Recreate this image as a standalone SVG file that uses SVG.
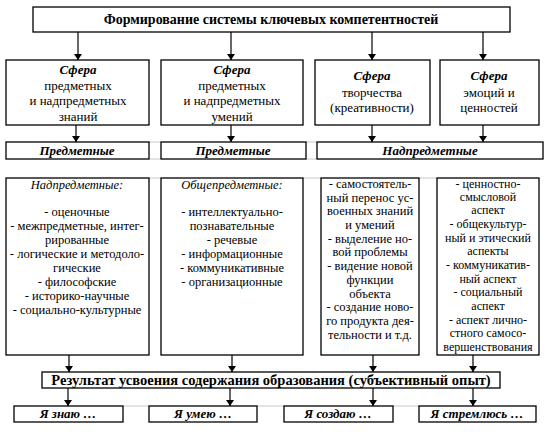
<svg xmlns="http://www.w3.org/2000/svg" width="548" height="433" viewBox="0 0 548 433">
<defs>
<marker id="ah" viewBox="0 0 6 8" refX="6" refY="4" markerWidth="6" markerHeight="8" orient="auto" markerUnits="userSpaceOnUse">
<path d="M0,0 L6,4 L0,8 Z" fill="#000"/>
</marker>
<style>
rect.b{fill:#fff;stroke:#000;stroke-width:1.3}
line.c{stroke:#000;stroke-width:1.2;marker-end:url(#ah)}
line.g{stroke:#c8c8c8;stroke-width:1}
text{font-family:"Times New Roman","Liberation Serif",Tinos,"DejaVu Serif",serif;fill:#000;text-anchor:middle}
.t{font-size:14px;font-weight:bold}
.u{font-size:14.5px;font-weight:bold}
.s{font-size:13px;font-weight:bold;font-style:italic}
.r{font-size:13px}
.l{font-size:12.5px}
.k{font-size:12px}
.i{font-size:12.5px;font-style:italic}
</style>
</defs>
<rect width="548" height="433" fill="#fff"/>
<g id="grid">
<line class="g" x1="149" y1="142" x2="161" y2="142"/>
<line class="g" x1="149" y1="159" x2="161" y2="159"/>
<line class="g" x1="306" y1="142" x2="317" y2="142"/>
<line class="g" x1="306" y1="159" x2="317" y2="159"/>
<line class="g" x1="149" y1="178" x2="161" y2="178"/>
<line class="g" x1="303" y1="178" x2="321" y2="178"/>
<line class="g" x1="419" y1="178" x2="437" y2="178"/>
<line class="g" x1="123" y1="406" x2="149" y2="406"/>
<line class="g" x1="257" y1="406" x2="284" y2="406"/>
<line class="g" x1="393" y1="406" x2="419" y2="406"/>
</g>
<g id="connectors">
<line class="c" x1="78" y1="32" x2="78" y2="60"/>
<line class="c" x1="231" y1="32" x2="231" y2="60"/>
<line class="c" x1="372" y1="32" x2="372" y2="60"/>
<line class="c" x1="483" y1="32" x2="483" y2="60"/>
<line class="c" x1="76" y1="125" x2="76" y2="142"/>
<line class="c" x1="231" y1="125" x2="231" y2="142"/>
<line class="c" x1="372" y1="125" x2="372" y2="142"/>
<line class="c" x1="483" y1="125" x2="483" y2="142"/>
<line class="c" x1="69" y1="355" x2="69" y2="372"/>
<line class="c" x1="232" y1="355" x2="232" y2="372"/>
<line class="c" x1="373" y1="355" x2="373" y2="372"/>
<line class="c" x1="473" y1="355" x2="473" y2="372"/>
<line class="c" x1="68" y1="388" x2="68" y2="406"/>
<line class="c" x1="230" y1="388" x2="230" y2="406"/>
<line class="c" x1="373" y1="388" x2="373" y2="406"/>
<line class="c" x1="473" y1="388" x2="473" y2="406"/>
</g>
<g id="title">
<rect class="b" x="33" y="7" width="477" height="25"/>
<text class="t" x="271" y="24">Формирование системы ключевых компетентностей</text>
</g>
<g id="sphere1">
<rect class="b" x="6" y="60" width="143" height="65"/>
<text class="s" x="78" y="74">Сфера</text>
<text class="r" x="78" y="90">предметных</text>
<text class="r" x="78" y="105">и надпредметных</text>
<text class="r" x="78" y="121">знаний</text>
</g>
<g id="sphere2">
<rect class="b" x="161" y="60" width="142" height="65"/>
<text class="s" x="232" y="74">Сфера</text>
<text class="r" x="232" y="90">предметных</text>
<text class="r" x="232" y="105">и надпредметных</text>
<text class="r" x="232" y="121">умений</text>
</g>
<g id="sphere3">
<rect class="b" x="315" y="60" width="115" height="65"/>
<text class="s" x="372" y="80">Сфера</text>
<text class="r" x="372" y="97">творчества</text>
<text class="r" x="372" y="112">(креативности)</text>
</g>
<g id="sphere4">
<rect class="b" x="440" y="60" width="99" height="65"/>
<text class="s" x="489" y="80">Сфера</text>
<text class="r" x="489" y="97">эмоций и</text>
<text class="r" x="489" y="112">ценностей</text>
</g>
<g id="label1">
<rect class="b" x="6" y="142" width="143" height="17"/>
<text class="s" x="77" y="155">Предметные</text>
</g>
<g id="label2">
<rect class="b" x="161" y="142" width="145" height="17"/>
<text class="s" x="233" y="155">Предметные</text>
</g>
<g id="label3">
<rect class="b" x="317" y="142" width="226" height="17"/>
<text class="s" x="430" y="155">Надпредметные</text>
</g>
<g id="list1">
<rect class="b" x="6" y="178" width="143" height="177"/>
<text class="i" x="77" y="189">Надпредметные:</text>
<text class="l" x="77" y="216">- оценочные</text>
<text class="l" x="77" y="230">- межпредметные, интег-</text>
<text class="l" x="77" y="244">рированные</text>
<text class="l" x="77" y="258">- логические и методоло-</text>
<text class="l" x="77" y="272">гические</text>
<text class="l" x="77" y="286">- философские</text>
<text class="l" x="77" y="300">- историко-научные</text>
<text class="l" x="77" y="314">- социально-культурные</text>
</g>
<g id="list2">
<rect class="b" x="161" y="178" width="142" height="177"/>
<text class="i" x="232" y="189">Общепредметные:</text>
<text class="l" x="232" y="216">- интеллектуально-</text>
<text class="l" x="232" y="230">познавательные</text>
<text class="l" x="232" y="244">- речевые</text>
<text class="l" x="232" y="258">- информационные</text>
<text class="l" x="232" y="272">- коммуникативные</text>
<text class="l" x="232" y="286">- организационные</text>
</g>
<g id="list3">
<rect class="b" x="321" y="178" width="98" height="177"/>
<text class="l" x="370" y="188">- самостоятель-</text>
<text class="l" x="370" y="202">ный перенос ус-</text>
<text class="l" x="370" y="215">военных знаний</text>
<text class="l" x="370" y="229">и умений</text>
<text class="l" x="370" y="243">- выделение но-</text>
<text class="l" x="370" y="256">вой проблемы</text>
<text class="l" x="370" y="270">- видение новой</text>
<text class="l" x="370" y="284">функции</text>
<text class="l" x="370" y="298">объекта</text>
<text class="l" x="370" y="311">- создание ново-</text>
<text class="l" x="370" y="325">го продукта дея-</text>
<text class="l" x="370" y="339">тельности и т.д.</text>
</g>
<g id="list4">
<rect class="b" x="437" y="178" width="102" height="177"/>
<text class="k" x="488" y="188">- ценностно-</text>
<text class="k" x="488" y="201">смысловой</text>
<text class="k" x="488" y="214">аспект</text>
<text class="k" x="488" y="228">- общекультур-</text>
<text class="k" x="488" y="242">ный и этический</text>
<text class="k" x="488" y="255">аспекты</text>
<text class="k" x="488" y="269">- коммуникатив-</text>
<text class="k" x="488" y="283">ный аспект</text>
<text class="k" x="488" y="296">- социальный</text>
<text class="k" x="488" y="310">аспект</text>
<text class="k" x="488" y="324">- аспект лично-</text>
<text class="k" x="488" y="337">стного самосо-</text>
<text class="k" x="488" y="351">вершенствования</text>
</g>
<g id="result">
<rect class="b" x="42" y="372" width="458" height="16"/>
<text class="u" x="271" y="385">Результат усвоения содержания образования (субъективный опыт)</text>
</g>
<g id="r1">
<rect class="b" x="14" y="406" width="109" height="16"/>
<text class="s" x="68" y="418">Я знаю …</text>
</g>
<g id="r2">
<rect class="b" x="149" y="406" width="108" height="16"/>
<text class="s" x="203" y="418">Я умею …</text>
</g>
<g id="r3">
<rect class="b" x="284" y="406" width="109" height="16"/>
<text class="s" x="338" y="418">Я создаю …</text>
</g>
<g id="r4">
<rect class="b" x="419" y="406" width="117" height="16"/>
<text class="s" x="477" y="418">Я стремлюсь …</text>
</g>
</svg>
